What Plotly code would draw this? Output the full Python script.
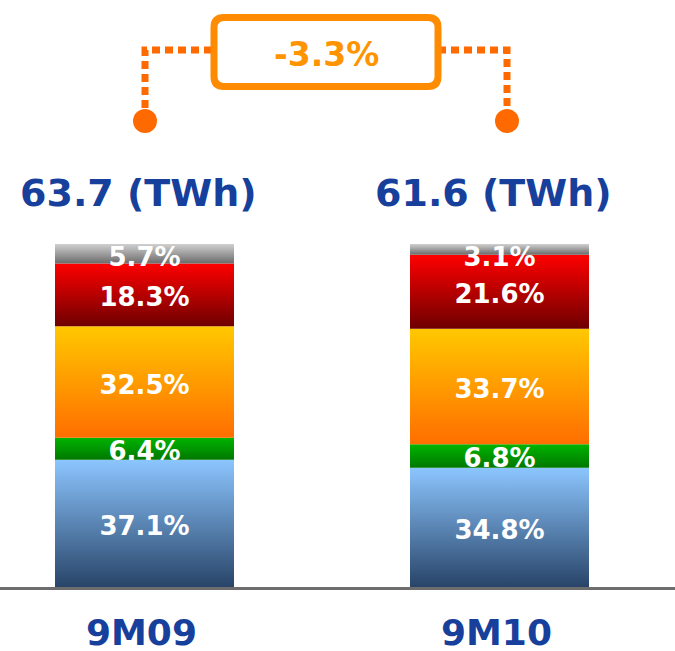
import plotly.graph_objects as go

# data
periods = ["9M09", "9M10"]
totals_twh = [63.7, 61.6]
# shares from bottom to top of each bar
segments = ["blue", "green", "orange", "red", "gray"]
shares_9m09 = [37.1, 6.4, 32.5, 18.3, 5.7]
shares_9m10 = [34.8, 6.8, 33.7, 21.6, 3.1]

# gradient colours per segment: (bottom, top)
GRADIENTS = {
    "blue": ("#284468", "#8cc6ff"),
    "green": ("#007800", "#00b400"),
    "orange": ("#ff6e00", "#ffc800"),
    "red": ("#6e0000", "#ff0000"),
    "gray": ("#6b6b6b", "#d0d0d0"),
}
TITLE_BLUE = "#173f9c"
ORANGE = "#ff8c00"
DOT_ORANGE = "#ff6a00"
FONT_BOLD = "DejaVu Sans"

# pixel mapping helpers (plot area fills the whole 675x651 page)
W, H = 675, 651
PX_PER_X = 355.0          # distance between bar centres
X0_PX = 144.5             # centre of first bar
Y0_PX, PX_PER_Y = 587.0, 3.43
BAR_HALF = 89.5 / PX_PER_X
LABEL_DROP = 5 / PX_PER_Y  # labels sit a little below segment centres


def xd(px):
    return (px - X0_PX) / PX_PER_X


def yd(px):
    return (Y0_PX - px) / PX_PER_Y


fig = go.Figure()

all_shares = [shares_9m09, shares_9m10]
for i, shares in enumerate(all_shares):
    base = 0.0
    for seg, val in zip(segments, shares):
        lo, hi = base, base + val
        x_l, x_r = i - BAR_HALF, i + BAR_HALF
        bottom, top = GRADIENTS[seg]
        fig.add_trace(
            go.Scatter(
                x=[x_l, x_r, x_r, x_l, x_l],
                y=[lo, lo, hi, hi, lo],
                mode="lines",
                line=dict(width=0),
                fill="toself",
                fillgradient=dict(
                    type="vertical",
                    colorscale=[[0, bottom], [1, top]],
                ),
                hoverinfo="skip",
                showlegend=False,
            )
        )
        base = hi

    # segment labels
    ys, texts = [], []
    base = 0.0
    for val in shares:
        ys.append(min(base + val / 2, 100 - 3.2) - LABEL_DROP)
        texts.append(f"{val:.1f}%")
        base += val
    fig.add_trace(
        go.Scatter(
            x=[i] * len(ys),
            y=ys,
            mode="text",
            text=texts,
            textposition="middle center",
            textfont=dict(family=FONT_BOLD, size=26, color="white", weight="bold"),
            hoverinfo="skip",
            showlegend=False,
        )
    )

    # total above bar
    fig.add_annotation(
        x=i, y=yd(193), text=f"{totals_twh[i]} (TWh)", showarrow=False,
        xshift=-6, yanchor="middle",
        font=dict(family=FONT_BOLD, size=38, color=TITLE_BLUE, weight="bold"),
    )
    # category label under axis
    fig.add_annotation(
        x=i, y=yd(632), text=periods[i], showarrow=False,
        xshift=-3, yanchor="middle",
        font=dict(family=FONT_BOLD, size=36, color=TITLE_BLUE, weight="bold"),
    )

# baseline
fig.add_shape(
    type="line", xref="paper", x0=0, x1=1, y0=yd(588.5), y1=yd(588.5),
    line=dict(color="#6d6d6d", width=3),
)

# change connector
change = (totals_twh[1] - totals_twh[0]) / totals_twh[0] * 100
dot_l, dot_r = xd(145), xd(507)
box_l, box_r = xd(214), xd(438)
y_line, y_dot = yd(50), yd(121)
dash = dict(color=DOT_ORANGE, width=7, dash="8px,5px")
fig.add_trace(
    go.Scatter(
        x=[dot_l, dot_l, box_l], y=[y_dot, y_line, y_line], mode="lines",
        line=dash, hoverinfo="skip", showlegend=False,
    )
)
fig.add_trace(
    go.Scatter(
        x=[box_r, dot_r, dot_r], y=[y_line, y_line, y_dot], mode="lines",
        line=dash, hoverinfo="skip", showlegend=False,
    )
)
fig.add_trace(
    go.Scatter(
        x=[dot_l, dot_r], y=[y_dot, y_dot], mode="markers",
        marker=dict(size=24, color=DOT_ORANGE),
        hoverinfo="skip", showlegend=False,
    )
)

# rounded box around the change
rx, ry = 10 / PX_PER_X, 10 / PX_PER_Y
bt, bb = yd(17.5), yd(86.5)
path = (
    f"M {box_l + rx},{bt} L {box_r - rx},{bt} Q {box_r},{bt} {box_r},{bt - ry} "
    f"L {box_r},{bb + ry} Q {box_r},{bb} {box_r - rx},{bb} "
    f"L {box_l + rx},{bb} Q {box_l},{bb} {box_l},{bb + ry} "
    f"L {box_l},{bt - ry} Q {box_l},{bt} {box_l + rx},{bt} Z"
)
fig.add_shape(
    type="path", path=path, fillcolor="white",
    line=dict(color=ORANGE, width=7),
)
fig.add_annotation(
    x=(box_l + box_r) / 2, y=yd(54), text=f"{change:.1f}%", showarrow=False,
    font=dict(family="DejaVu Sans", size=33, color="#ff9400", weight="bold"),
)

fig.update_layout(
    width=W, height=H,
    margin=dict(l=0, r=0, t=0, b=0),
    paper_bgcolor="white", plot_bgcolor="white",
    showlegend=False,
    xaxis=dict(range=[xd(0), xd(W)], visible=False, fixedrange=True),
    yaxis=dict(range=[yd(H), yd(0)], visible=False, fixedrange=True),
)

fig.write_html(
    "out.html",
    config=dict(displayModeBar=False),
    post_script="document.body.style.margin='0';",
)
